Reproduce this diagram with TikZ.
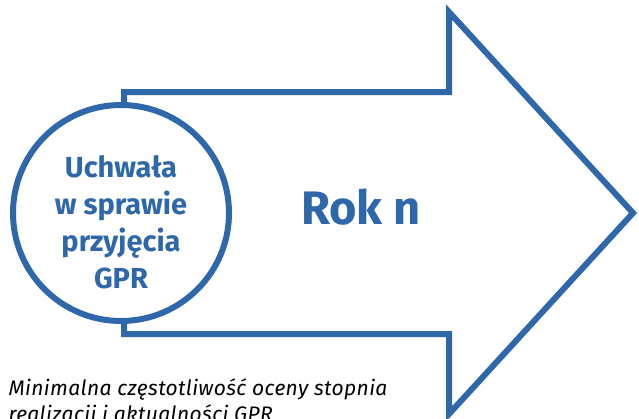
\documentclass[tikz,border=0pt]{standalone}
\usepackage{fontspec}
\setmainfont{Fira Sans}
\usetikzlibrary{calc}
\definecolor{gprblue}{RGB}{46,103,170}
\begin{document}
\begin{tikzpicture}[x=1pt,y=-1pt,
  outline/.style={draw=gprblue,line width=6pt,line join=miter},
  circletext/.style={text=gprblue,font=\fontsize{29}{37}\selectfont\bfseries,align=center},
  yeartext/.style={text=gprblue,font=\fontsize{47}{52}\selectfont\bfseries,anchor=base},
  notetext/.style={text=black,font=\fontsize{21}{26}\selectfont\itshape\addfontfeatures{LetterSpace=1.8},align=left,anchor=base west}]
  \useasboundingbox (0,0) rectangle (639,418);
  % resolution circle
  \node[outline,circle,minimum size=216pt,inner sep=0pt] (c) at (121,213) {};
  \node[circletext] (ctext) at (121,222) {Uchwała\\w sprawie\\przyjęcia\\GPR};
  % big arrow outline, open where it meets the circle
  \coordinate (t0) at (124,104);
  \coordinate (b0) at (124,322);
  \draw[outline] (t0) -- (124,92) -- (449,92) -- (449,12) -- (633,213)
    -- (449,414) -- (449,334) -- (124,334) -- (b0);
  \node[yeartext] (year) at (361,224) {Rok n};
  \node[notetext] (note) at (5,395.7) {Minimalna częstotliwość oceny stopnia};
  \node[notetext] (note2) at (5,421.7) {realizacji i aktualności GPR};
\end{tikzpicture}
\end{document}
